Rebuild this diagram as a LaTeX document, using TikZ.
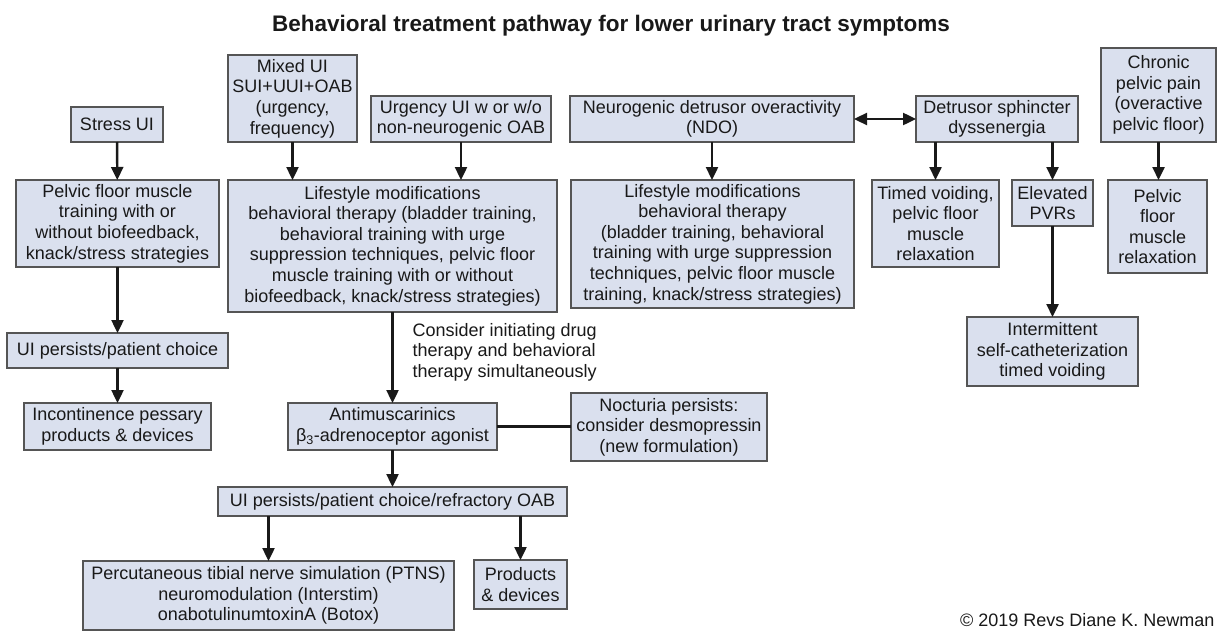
\documentclass[tikz,border=0pt]{standalone}
\usepackage{fontspec}
\setmainfont{Liberation Sans}
\usetikzlibrary{arrows.meta}
\definecolor{boxfill}{RGB}{218,224,238}
\definecolor{boxline}{RGB}{85,85,85}
\definecolor{ink}{RGB}{25,25,25}
\begin{document}
\begin{tikzpicture}[x=1pt,y=-1pt,
  every node/.style={font=\fontsize{18}{20.6}\selectfont, text=ink},
  box/.style={draw=boxline, line width=1.8pt, fill=boxfill, align=center, inner sep=0pt, outer sep=0pt},
  arr/.style={draw=ink, line width=2.4pt, -{Triangle[length=13pt,width=12pt]}},
  darr/.style={draw=ink, line width=2.4pt, {Triangle[length=13pt,width=12pt]}-{Triangle[length=13pt,width=12pt]}},
  plain/.style={draw=ink, line width=2.2pt}]
\useasboundingbox (0,0) rectangle (1222,634);
\fill[white] (0,0) rectangle (1222,634);

\node[font=\fontsize{22.5}{26}\selectfont\bfseries, anchor=base] (title) at (611,32) {Behavioral treatment pathway for lower urinary tract symptoms};

% top row
\node[box, minimum width=92pt, minimum height=35pt] (stress) at (117,124.5) {Stress UI};
\node[box, minimum width=129pt, minimum height=87pt] (mixed) at (292.5,98.5) {Mixed UI\\SUI+UUI+OAB\\(urgency,\\frequency)};
\node[box, minimum width=180pt, minimum height=46pt] (urgency) at (461,119) {Urgency UI w or w/o\\non-neurogenic OAB};
\node[box, minimum width=284pt, minimum height=46pt] (ndo) at (712,119) {Neurogenic detrusor overactivity\\(NDO)};
\node[box, minimum width=162pt, minimum height=46pt] (dsd) at (997,119) {Detrusor sphincter\\dyssenergia};
\node[box, minimum width=115pt, minimum height=94pt] (chronic) at (1158.5,95) {Chronic\\pelvic pain\\(overactive\\pelvic floor)};

% second row
\node[box, minimum width=203pt, minimum height=87pt] (pfmt) at (117.5,223.5) {Pelvic floor muscle\\training with or\\without biofeedback,\\knack/stress strategies};
\node[box, minimum width=329pt, minimum height=132pt] (life1) at (392.5,246) {Lifestyle modifications\\behavioral therapy (bladder training,\\behavioral training with urge\\suppression techniques, pelvic floor\\muscle training with or without\\biofeedback, knack/stress strategies)};
\node[box, minimum width=283pt, minimum height=128pt] (life2) at (712.5,244) {Lifestyle modifications\\behavioral therapy\\(bladder training, behavioral\\training with urge suppression\\techniques, pelvic floor muscle\\training, knack/stress strategies)};
\node[box, minimum width=127pt, minimum height=87pt] (timed) at (935.5,223.5) {Timed voiding,\\pelvic floor\\muscle\\relaxation};
\node[box, minimum width=81pt, minimum height=46pt] (pvr) at (1052.5,203) {Elevated\\PVRs};
\node[box, minimum width=99pt, minimum height=93pt] (pfrelax) at (1157.5,226.5) {Pelvic\\floor\\muscle\\relaxation};
\node[box, minimum width=171pt, minimum height=69pt] (isc) at (1052.5,351.5) {Intermittent\\self-catheterization\\timed voiding};

% lower left
\node[box, minimum width=221pt, minimum height=35pt] (persist1) at (117.5,350.5) {UI persists/patient choice};
\node[box, minimum width=187pt, minimum height=47pt] (pessary) at (117.5,426.5) {Incontinence pessary\\products \& devices};

\node[anchor=west, align=left] (consider) at (409,352) {Consider initiating drug\\therapy and behavioral\\therapy simultaneously};

\node[box, minimum width=209pt, minimum height=47pt] (anti) at (392.5,426.5) {Antimuscarinics\\β\textsubscript{3}-adrenoceptor agonist};
\node[box, minimum width=196pt, minimum height=68pt] (noct) at (669,427) {Nocturia persists:\\consider desmopressin\\(new formulation)};
\node[box, minimum width=349pt, minimum height=29pt] (persist2) at (392.5,501.5) {UI persists/patient choice/refractory OAB};
\node[box, minimum width=371pt, minimum height=69pt] (ptns) at (268.5,595.5) {Percutaneous tibial nerve simulation (PTNS)\\neuromodulation (Interstim)\\onabotulinumtoxinA (Botox)};
\node[box, minimum width=93pt, minimum height=49pt] (products) at (520.5,584.5) {Products\\\& devices};

\node[anchor=east] (copy) at (1218,620) {© 2019 Revs Diane K. Newman};

% connectors
\draw[arr] (stress) -- (pfmt);
\draw[arr] (mixed.south) -- (mixed.south |- life1.north);
\draw[arr] (urgency.south) -- (urgency.south |- life1.north);
\draw[arr] (ndo.south) -- (ndo.south |- life2.north);
\draw[darr] (ndo.east) -- (dsd.west);
\draw[arr] (timed.north |- dsd.south) -- (timed.north);
\draw[arr] (pvr.north |- dsd.south) -- (pvr.north);
\draw[arr] (chronic.south) -- (chronic.south |- pfrelax.north);
\draw[arr] (pvr.south) -- (pvr.south |- isc.north);
\draw[arr] (pfmt) -- (persist1);
\draw[arr] (persist1) -- (pessary);
\draw[arr] (life1.south) -- (life1.south |- anti.north);
\draw[plain] (anti.east) -- (anti.east -| noct.west);
\draw[arr] (anti.south) -- (anti.south |- persist2.north);
\draw[arr] (ptns.north |- persist2.south) -- (ptns.north);
\draw[arr] (products.north |- persist2.south) -- (products.north);
\end{tikzpicture}
\end{document}
